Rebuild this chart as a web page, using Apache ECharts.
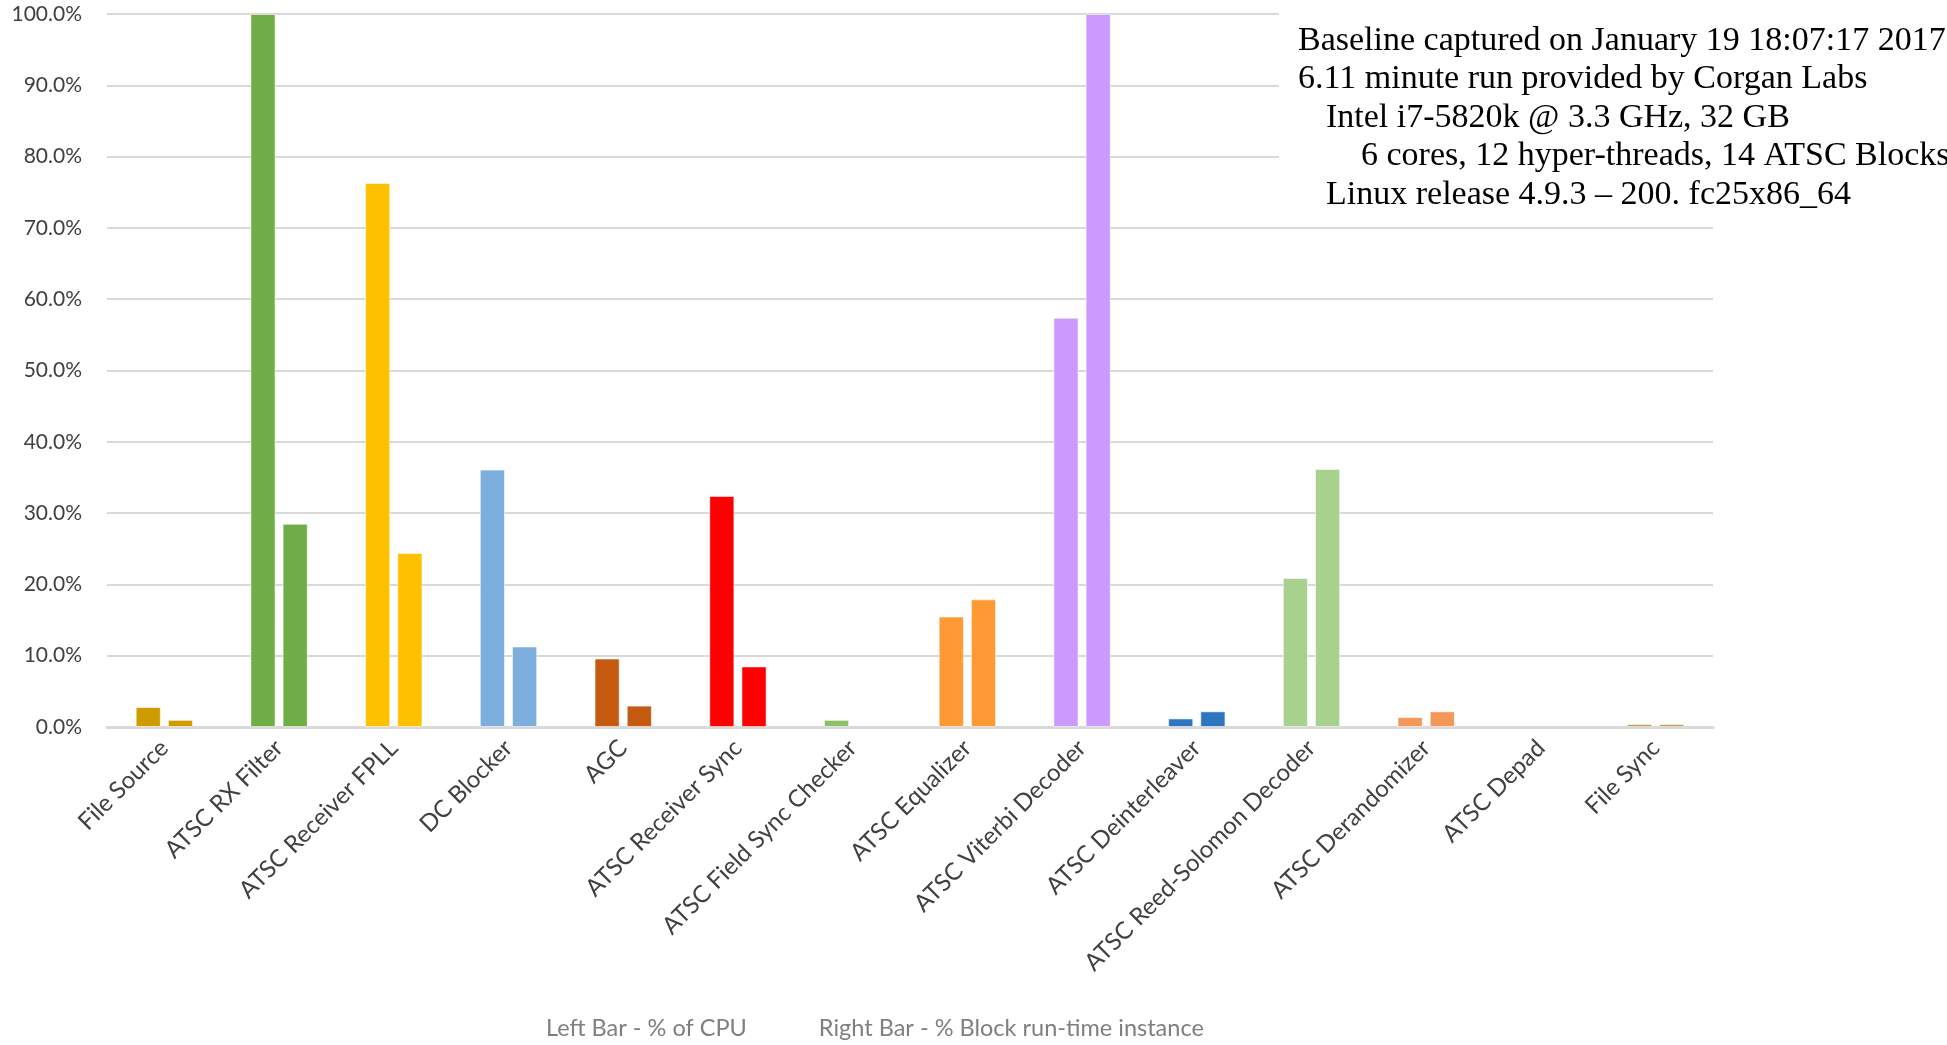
<!DOCTYPE html>
<html>
<head>
<meta charset="utf-8">
<title>ATSC block CPU profile</title>
<script src="https://cdn.jsdelivr.net/npm/echarts@6/dist/echarts.min.js"></script>
<style>
  html, body { margin: 0; padding: 0; background: #ffffff; }
  #chart { width: 1947px; height: 1045px; }
</style>
</head>
<body>
<div id="chart"></div>
<script>
// Processing blocks of the ATSC receive flowgraph
const categories = [
  'File Source', 'ATSC RX Filter', 'ATSC Receiver FPLL', 'DC Blocker', 'AGC',
  'ATSC Receiver Sync', 'ATSC Field Sync Checker', 'ATSC Equalizer',
  'ATSC Viterbi Decoder', 'ATSC Deinterleaver', 'ATSC Reed-Solomon Decoder',
  'ATSC Derandomizer', 'ATSC Depad', 'File Sync'
];

// Left bar: share of total CPU (%)
const cpuShare = [2.8, 100, 76.3, 36.1, 9.6, 32.4, 1.0, 15.5, 57.4, 1.2, 20.9, 1.4, 0, 0.4];

// Right bar: share of block run-time instance (%)
const runtimeShare = [1.0, 28.5, 24.4, 11.3, 3.0, 8.5, 0, 17.9, 100, 2.2, 36.2, 2.2, 0, 0.4];

// One colour per block, shared by both of its bars
const blockColors = [
  '#CF9C00', '#70AD47', '#FFC000', '#7CAFDE', '#C55A11', '#FF0000', '#8CC168',
  '#FF9933', '#CC99FF', '#2E75C0', '#A9D18E', '#F4985A', '#A5A5A5', '#B8963E'
];

const seriesNames = ['Left Bar - % of CPU', 'Right Bar - % Block run-time instance'];

const runInfo = [
  'Baseline captured on January 19 18:07:17 2017',
  '6.11 minute run provided by Corgan Labs',
  'Intel i7-5820k @ 3.3 GHz, 32 GB',
  '6 cores, 12 hyper-threads, 14 ATSC Blocks',
  'Linux release 4.9.3 \u2013 200. fc25x86_64'
];
const runInfoIndent = [0, 0, 28, 63, 28];

// Zero-height bars get no outline so nothing shows along the baseline
const colored = (values) => values.map((v, i) => ({
  value: v,
  itemStyle: {
    color: blockColors[i],
    borderWidth: v > 0 ? 1 : 0
  }
}));

const chart = echarts.init(document.getElementById('chart'), null, { renderer: 'canvas' });

const labelFont = 'Lato, "Open Sans", sans-serif';

const barStyle = {
  borderColor: 'rgba(255,255,255,0.55)',
  borderWidth: 1
};

chart.setOption({
  animation: false,
  backgroundColor: '#ffffff',
  grid: { left: 107, right: 234, top: 14, bottom: 318, containLabel: false },
  xAxis: {
    type: 'category',
    data: categories,
    axisTick: { show: false },
    axisLine: { show: true, lineStyle: { color: '#d9d9d9', width: 3 } },
    axisLabel: {
      interval: 0,
      rotate: 45,
      margin: 17,
      color: '#404040',
      fontSize: 24,
      fontFamily: labelFont
    }
  },
  yAxis: {
    type: 'value',
    min: 0,
    max: 100,
    interval: 10,
    axisLine: { show: false },
    axisTick: { show: false },
    splitLine: { lineStyle: { color: '#d9d9d9', width: 2 } },
    axisLabel: {
      margin: 25,
      color: '#404040',
      fontSize: 21,
      fontFamily: labelFont,
      formatter: (v) => v.toFixed(1) + '%'
    }
  },
  legend: {
    bottom: 0,
    left: 535,
    itemWidth: 0,
    itemHeight: 0,
    itemGap: 66,
    icon: 'rect',
    selectedMode: false,
    textStyle: { color: '#7f7f7f', fontSize: 23.5, fontFamily: labelFont },
    data: seriesNames
  },
  series: [
    {
      name: seriesNames[0],
      type: 'bar',
      data: colored(cpuShare),
      barGap: '28%',
      barCategoryGap: '50%',
      itemStyle: barStyle
    },
    {
      name: seriesNames[1],
      type: 'bar',
      data: colored(runtimeShare),
      barGap: '28%',
      barCategoryGap: '50%',
      itemStyle: barStyle
    }
  ],
  graphic: [
    {
      type: 'rect',
      z: 100,
      shape: { x: 1279, y: 0, width: 668, height: 212 },
      style: { fill: '#ffffff' }
    }
  ].concat(runInfo.map((line, i) => ({
    type: 'text',
    z: 101,
    x: 1298 + runInfoIndent[i],
    y: 41 + i * 38.5,
    style: {
      text: line,
      fill: '#000000',
      font: '34px "Liberation Serif", "DejaVu Serif", serif',
      textVerticalAlign: 'middle'
    }
  })))
});
</script>
</body>
</html>
